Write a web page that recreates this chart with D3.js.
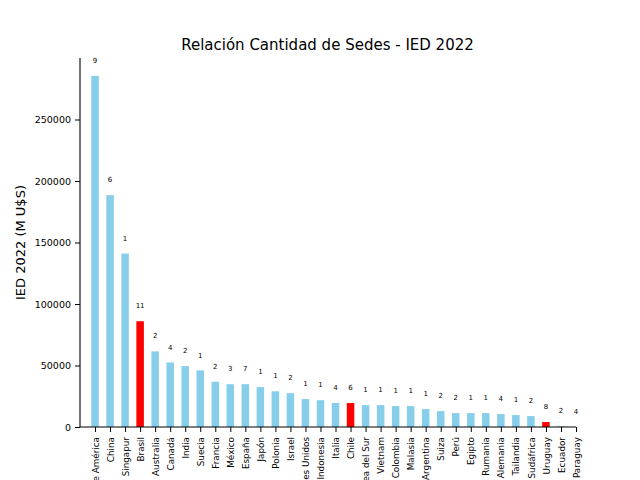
<!DOCTYPE html>
<html>
<head>
<meta charset="utf-8">
<script src="https://cdn.jsdelivr.net/npm/d3@7"></script>
<style>
  body { margin: 0; background: #fff; }
  svg { font-family: "DejaVu Sans", sans-serif; }
</style>
</head>
<body>
<svg id="chart" width="640" height="480"></svg>
<script>
// countries, sorted by IED 2022
var paises = ['Estados Unidos de América', 'China', 'Singapur', 'Brasil', 'Australia', 'Canadá', 'India',
  'Suecia', 'Francia', 'México', 'España', 'Japón', 'Polonia', 'Israel', 'Emiratos Árabes Unidos',
  'Indonesia', 'Italia', 'Chile', 'Corea del Sur', 'Vietnam', 'Colombia', 'Malasia', 'Argentina',
  'Suiza', 'Perú', 'Egipto', 'Rumania', 'Alemania', 'Tailandia', 'Sudáfrica', 'Uruguay', 'Ecuador', 'Paraguay'];
// IED 2022 (M U$S)
var ied = [285500, 188500, 141000, 86000, 61500, 52500, 49500, 46000, 36800, 34800, 34800, 32400,
  29000, 27500, 22700, 21800, 19500, 19500, 17800, 17800, 17000, 17000, 14600, 12900, 11300, 11300,
  11300, 10500, 9700, 8900, 4000, 500, 0];
// number of sedes per country
var sedes = [9, 6, 1, 11, 2, 4, 2, 1, 2, 3, 7, 1, 1, 2, 1, 1, 4, 6, 1, 1, 1, 1, 1, 2, 2, 1, 1, 4, 1, 2, 8, 2, 4];
var resaltados = ['Brasil', 'Chile', 'Uruguay'];
var yTicks = [0, 50000, 100000, 150000, 200000, 250000];

var svg = d3.select('#chart');
// plot area
var mLeft = 80, mRight = 576, mTop = 58, mBottom = 427;

var n = ied.length;
var x = d3.scaleLinear().domain([-1, n - 1]).range([mLeft, mRight]);
var y = d3.scaleLinear().domain([0, 300000]).range([mBottom, mTop]);
var bw = x(0.5) - x(0);

svg.selectAll('rect.bar')
  .data(ied)
  .enter().append('rect')
  .attr('class', 'bar')
  .attr('x', function(d, i) { return x(i) - bw / 2; })
  .attr('y', function(d) { return y(d); })
  .attr('width', bw)
  .attr('height', function(d) { return mBottom - y(d); })
  .attr('fill', function(d, i) { return resaltados.indexOf(paises[i]) >= 0 ? '#ff0000' : '#87ceeb'; });

svg.selectAll('text.val')
  .data(sedes)
  .enter().append('text')
  .attr('class', 'val')
  .attr('x', function(d, i) { return x(i); })
  .attr('y', function(d, i) { return y(ied[i] + 10500); })
  .attr('text-anchor', 'middle')
  .attr('font-size', 7)
  .text(function(d) { return d; });

// y axis
var yAxis = d3.axisLeft(y).tickValues(yTicks).tickSize(5).tickPadding(4).tickFormat(d3.format('d'));
var gy = svg.append('g').attr('transform', 'translate(' + mLeft + ',0)').call(yAxis);
gy.select('.domain').attr('d', 'M0,' + mTop + 'V' + mBottom).attr('stroke-width', 1.1);
gy.selectAll('text').attr('font-size', 9.5).attr('fill', '#000').attr('font-family', '"DejaVu Sans", sans-serif');

// x axis
var xAxis = d3.axisBottom(x).tickValues(d3.range(n)).tickSize(5).tickFormat(function(i) { return paises[i]; });
var gx = svg.append('g').attr('transform', 'translate(0,' + mBottom + ')').call(xAxis);
gx.select('.domain').attr('d', 'M' + mLeft + ',0H' + mRight).attr('stroke-width', 1.1);
gx.selectAll('text')
  .attr('font-size', 8.8)
  .attr('fill', '#000')
  .attr('font-family', '"DejaVu Sans", sans-serif')
  .attr('text-anchor', 'end')
  .attr('dy', '0.35em')
  .attr('transform', 'rotate(-90)')
  .attr('x', -10)
  .attr('y', 0);

svg.append('text')
  .attr('x', (mLeft + mRight) / 2 - 0.5)
  .attr('y', 50)
  .attr('text-anchor', 'middle')
  .attr('font-size', 15)
  .text('Relación Cantidad de Sedes - IED 2022');

svg.append('text')
  .attr('transform', 'translate(25,' + (mTop + mBottom) / 2 + ') rotate(-90)')
  .attr('text-anchor', 'middle')
  .attr('font-size', 13)
  .text('IED 2022 (M U$S)');
</script>
</body>
</html>
